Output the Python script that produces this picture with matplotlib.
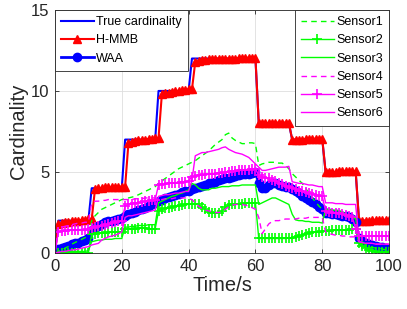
import numpy as np
import matplotlib
matplotlib.use("Agg")
import matplotlib.pyplot as plt

plt.rcParams['font.family'] = ['Liberation Sans', 'DejaVu Sans']

# time axis, one sample per second
time_s = list(range(0, 101))

true_card = ([0] + [2] * 10 + [4] * 10 + [7] * 10 + [10] * 10 + [12] * 20
             + [8] * 10 + [7] * 10 + [5] * 10 + [2] * 10)

hmmb = [0,
        1.8, 1.85, 1.9, 1.9, 1.95, 2.0, 2.0, 2.05, 2.05, 2.1, 2.1,
        3.95, 4.0, 4.0, 4.05, 4.05, 4.05, 4.1, 4.1, 4.1, 4.1,
        6.8, 6.85, 6.9, 6.95, 7.0, 7.0, 7.05, 7.05, 7.1, 7.1,
        9.8, 9.85, 9.9, 9.95, 10.0, 10.0, 10.05, 10.05, 10.1, 10.1,
        11.8, 11.85, 11.9, 11.9, 11.95, 11.95, 12.0, 12.0, 12.0, 12.0,
        12.0, 12.0, 12.0, 12.05, 12.05, 12.05, 12.05, 12.05, 12.05,
        8.0, 8.0, 8.0, 8.0, 8.05, 8.05, 8.05, 8.05, 8.05, 8.05,
        7.0, 7.0, 7.0, 7.0, 7.05, 7.05, 7.05, 7.05, 7.05, 7.05,
        5.0, 5.0, 5.0, 5.0, 5.05, 5.05, 5.05, 5.05, 5.05, 5.05,
        2.0, 2.0, 2.0, 2.0, 2.05, 2.05, 2.05, 2.05, 2.05, 2.05]

waa = [0.0,
       0.25, 0.3, 0.35, 0.45, 0.55, 0.6, 0.65, 0.75, 0.8, 0.9,
       1.45, 1.55, 1.7, 1.8, 1.9, 1.95, 2.0, 2.05, 2.1, 2.15,
       2.3, 2.4, 2.5, 2.55, 2.65, 2.7, 2.8, 2.9, 3.0, 3.1,
       3.2, 3.3, 3.4, 3.45, 3.5, 3.6, 3.65, 3.75, 3.8, 3.85,
       3.95, 4.0, 4.05, 4.15, 4.2, 4.3, 4.35, 4.4, 4.5, 4.55,
       4.6, 4.65, 4.7, 4.75, 4.8, 4.85, 4.85, 4.9, 4.95, 5.0,
       4.3, 4.0, 4.0, 4.2, 4.35, 4.3, 4.2, 4.15, 4.1, 4.05,
       3.95, 3.85, 3.7, 3.55, 3.4, 3.3, 3.15, 3.0, 2.85, 2.7,
       2.45, 2.45, 2.4, 2.4, 2.35, 2.3, 2.3, 2.2, 2.1, 1.9,
       0.9, 0.75, 0.65, 0.55, 0.5, 0.45, 0.4, 0.35, 0.3, 0.25]

sensor1 = [0,
           0.1, 0.2, 0.3, 0.4, 0.55, 0.65, 0.75, 0.85, 0.95, 1.05,
           2.0, 2.3, 2.5, 2.7, 2.8, 2.9, 3.0, 3.1, 3.2, 3.3,
           3.35, 3.4, 3.45, 3.5, 3.6, 3.7, 3.8, 3.9, 4.0, 4.1,
           4.3, 4.45, 4.6, 4.75, 4.9, 5.05, 5.2, 5.3, 5.4, 5.5,
           5.6, 5.7, 5.85, 6.0, 6.15, 6.3, 6.5, 6.7, 6.85, 7.0,
           7.3, 7.4, 7.1, 6.95, 6.85, 6.75, 6.75, 6.8, 6.8, 6.75,
           5.4, 5.5, 5.55, 5.6, 5.6, 5.6, 5.55, 5.55, 5.4, 5.2,
           4.9, 4.7, 4.5, 4.3, 4.0, 3.7, 3.4, 3.15, 2.9, 2.7,
           2.6, 2.55, 2.5, 2.5, 2.45, 2.4, 2.4, 2.35, 2.3, 2.2,
           1.0, 0.7, 0.5, 0.4, 0.35, 0.3, 0.3, 0.25, 0.2, 0.2]

sensor2 = [0,
           0.02, 0.02, 0.02, 0.02, 0.02, 0.02, 0.02, 0.02, 0.02, 0.02,
           1.2, 1.2, 1.25, 1.25, 1.25, 1.3, 1.3, 1.3, 1.3, 1.3,
           1.5, 1.5, 1.5, 1.5, 1.55, 1.55, 1.55, 1.5, 1.5, 1.5,
           2.6, 2.7, 2.75, 2.8, 2.85, 2.9, 2.9, 2.95, 3.0, 3.0,
           3.05, 3.05, 3.0, 2.85, 2.7, 2.55, 2.5, 2.5, 2.5, 2.6,
           2.85, 2.95, 3.0, 3.0, 3.05, 3.05, 3.1, 3.1, 3.1, 3.1,
           0.9, 0.9, 0.9, 0.9, 0.9, 0.9, 0.9, 0.9, 0.9, 0.95,
           0.95, 1.0, 1.05, 1.1, 1.2, 1.25, 1.3, 1.3, 1.3, 1.35,
           1.35, 1.35, 1.4, 1.4, 1.4, 1.4, 1.45, 1.45, 1.5, 1.5,
           0.6, 0.45, 0.3, 0.2, 0.1, 0.05, 0.05, 0.05, 0.05, 0.05]

sensor3 = [0,
           0.05, 0.05, 0.1, 0.1, 0.1, 0.1, 0.1, 0.1, 0.1, 0.15,
           0.7, 0.75, 0.8, 0.8, 0.85, 0.85, 0.85, 0.9, 0.9, 0.9,
           1.6, 1.6, 1.65, 1.65, 1.7, 1.7, 1.7, 1.75, 1.75, 1.75,
           3.1, 3.2, 3.3, 3.4, 3.5, 3.55, 3.65, 3.7, 3.8, 3.9,
           4.3, 4.2, 4.0, 3.9, 3.9, 3.9, 4.0, 4.0, 4.05, 4.1,
           4.1, 4.1, 4.15, 4.15, 4.15, 4.2, 4.2, 4.2, 4.2, 4.2,
           3.0, 3.1, 3.2, 3.3, 3.4, 3.4, 3.3, 3.2, 3.1, 3.0,
           2.4, 2.05, 2.0, 2.0, 1.95, 1.95, 1.9, 1.9, 1.9, 1.85,
           2.7, 2.7, 2.65, 2.65, 2.6, 2.55, 2.4, 2.3, 2.2, 2.1,
           0.7, 0.5, 0.35, 0.25, 0.2, 0.15, 0.1, 0.1, 0.1, 0.1]

sensor4 = [0,
           1.5, 1.6, 1.65, 1.7, 1.75, 1.8, 1.85, 1.85, 1.9, 1.9,
           3.1, 3.2, 3.2, 3.25, 3.25, 3.3, 3.3, 3.3, 3.3, 3.3,
           3.3, 3.3, 3.3, 3.35, 3.35, 3.35, 3.4, 3.4, 3.4, 3.4,
           3.3, 3.3, 3.35, 3.35, 3.35, 3.4, 3.4, 3.4, 3.4, 3.35,
           3.3, 3.1, 2.9, 2.75, 2.65, 2.6, 2.55, 2.5, 2.5, 2.55,
           2.7, 2.85, 2.95, 3.0, 3.0, 3.0, 2.95, 2.9, 2.8, 2.7,
           2.2, 1.2, 1.5, 1.8, 1.95, 2.0, 2.0, 2.05, 2.1, 2.1,
           2.1, 2.1, 2.15, 2.15, 2.15, 2.2, 2.2, 2.2, 2.2, 2.2,
           1.3, 1.2, 1.15, 1.1, 1.1, 1.05, 1.05, 1.0, 1.0, 1.0,
           0.7, 0.65, 0.6, 0.6, 0.6, 0.55, 0.55, 0.55, 0.55, 0.55]

sensor5 = [0,
           1.3, 1.35, 1.35, 1.4, 1.4, 1.4, 1.45, 1.45, 1.45, 1.5,
           1.55, 1.6, 1.65, 1.7, 1.75, 1.8, 1.85, 1.9, 1.95, 2.0,
           2.9, 3.0, 3.05, 3.1, 3.1, 3.15, 3.2, 3.2, 3.25, 3.3,
           4.2, 4.25, 4.25, 4.3, 4.3, 4.35, 4.35, 4.4, 4.4, 4.45,
           4.7, 4.75, 4.8, 4.8, 4.85, 4.85, 4.9, 4.9, 4.95, 4.95,
           5.0, 5.0, 5.05, 5.05, 5.1, 5.1, 5.15, 5.15, 5.2, 5.2,
           4.8, 4.7, 4.65, 4.6, 4.5, 4.45, 4.35, 4.25, 4.15, 4.1,
           4.0, 3.95, 3.85, 3.8, 3.75, 3.7, 3.65, 3.6, 3.55, 3.5,
           2.6, 2.55, 2.5, 2.5, 2.45, 2.4, 2.35, 2.3, 2.2, 1.5,
           1.05, 1.05, 1.05, 1.05, 1.05, 1.05, 1.05, 1.05, 1.05, 1.05]

sensor6 = [0,
           0.05, 0.1, 0.1, 0.15, 0.2, 0.2, 0.25, 0.3, 0.35, 0.4,
           0.5, 0.55, 0.6, 0.8, 0.9, 1.0, 1.05, 1.1, 1.2, 1.3,
           2.2, 2.3, 2.3, 2.35, 2.4, 2.45, 2.5, 2.55, 2.6, 2.65,
           3.5, 3.55, 3.6, 3.6, 3.65, 3.7, 3.7, 3.75, 3.8, 3.8,
           4.5, 6.0, 6.1, 6.2, 6.2, 6.25, 6.3, 6.35, 6.4, 6.5,
           6.55, 6.4, 6.3, 6.2, 6.15, 6.1, 6.0, 5.9, 5.7, 5.5,
           5.3, 5.1, 5.1, 5.15, 5.2, 5.25, 5.3, 5.3, 5.3, 5.35,
           4.4, 4.35, 4.3, 4.3, 4.25, 4.2, 4.2, 4.15, 4.1, 4.1,
           3.1, 3.1, 3.1, 3.05, 3.05, 3.05, 3.0, 3.0, 3.0, 3.0,
           0.7, 0.65, 0.6, 0.6, 0.6, 0.55, 0.55, 0.55, 0.55, 0.55]

x_ticks = [0, 20, 40, 60, 80, 100]
y_ticks = [0, 5, 10, 15]

GREEN = (0, 1, 0)
MAGENTA = (1, 0, 1)
EDGE = (0.15, 0.15, 0.15)


def plot():
    fig = plt.figure(figsize=(4.07, 3.09), dpi=100)
    ax = fig.add_axes([0.135, 0.181, 0.821, 0.787])

    l_true, = ax.plot(time_s, true_card, color='b', lw=1.5, label='True cardinality')
    l_hmmb, = ax.plot(time_s, hmmb, color='r', lw=1.5, marker='^', ms=6,
                      label='H-MMB')
    l_waa, = ax.plot(time_s, waa, color='b', lw=2.0, marker='o', ms=6,
                     label='WAA')

    s1, = ax.plot(time_s, sensor1, color=GREEN, lw=1.0, ls=(0, (4, 3)), label='Sensor1')
    s2, = ax.plot(time_s, sensor2, color=GREEN, lw=1.0, marker='+', ms=6.5,
                  mew=1.2, label='Sensor2')
    s3, = ax.plot(time_s, sensor3, color=GREEN, lw=1.0, label='Sensor3')
    s4, = ax.plot(time_s, sensor4, color=MAGENTA, lw=1.0, ls=(0, (4, 3)), label='Sensor4')
    s5, = ax.plot(time_s, sensor5, color=MAGENTA, lw=1.0, marker='+', ms=6.5,
                  mew=1.2, label='Sensor5')
    s6, = ax.plot(time_s, sensor6, color=MAGENTA, lw=1.0, label='Sensor6')

    ax.set_xlim(0, 100)
    ax.set_ylim(0, 15)
    ax.set_xticks(x_ticks)
    ax.set_yticks(y_ticks)
    ax.tick_params(direction='in', length=3, labelsize=12, colors=EDGE,
                   top=True, right=True, width=0.6, pad=4)
    for sp in ax.spines.values():
        sp.set_color(EDGE)
        sp.set_linewidth(0.6)
    ax.grid(True, color=(0.87, 0.87, 0.87), lw=0.6)
    ax.set_axisbelow(True)

    ax.set_xlabel('Time/s', fontsize=14.5, color=EDGE, labelpad=2)
    ax.set_ylabel('Cardinality', fontsize=14.5, color=EDGE, labelpad=2)

    leg1 = ax.legend(handles=[l_true, l_hmmb, l_waa], loc='upper left',
                     bbox_to_anchor=(0, 1), borderaxespad=0, fontsize=9,
                     fancybox=False, framealpha=1, edgecolor=EDGE,
                     handlelength=2.6, handletextpad=0.2, labelspacing=0.5,
                     borderpad=0.5)
    leg1.get_frame().set_linewidth(0.6)
    ax.add_artist(leg1)
    leg2 = ax.legend(handles=[s1, s2, s3, s4, s5, s6], loc='upper right',
                     bbox_to_anchor=(1, 1), borderaxespad=0, fontsize=9,
                     fancybox=False, framealpha=1, edgecolor=EDGE,
                     handlelength=2.6, handletextpad=0.2, labelspacing=0.5,
                     borderpad=0.5)
    leg2.get_frame().set_linewidth(0.6)

    fig.savefig('out.png', dpi=100)


plot()
